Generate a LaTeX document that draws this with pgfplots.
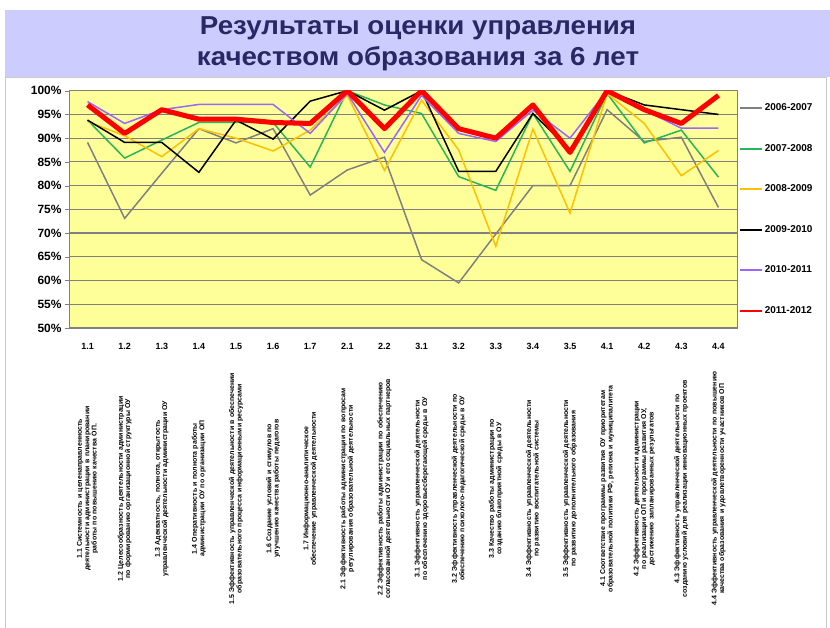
\documentclass[border=0pt]{standalone}
\usepackage{fontspec}
\setmainfont{Liberation Sans}
\newfontfamily\titlefont[FakeStretch=1.07]{Liberation Sans}
\usepackage{pgfplots}
\pgfplotsset{compat=1.18}
\definecolor{titlebg}{RGB}{204,204,255}
\definecolor{titlefg}{RGB}{40,40,100}
\definecolor{plotbg}{RGB}{255,255,153}
\definecolor{gridgray}{RGB}{128,128,128}
\definecolor{c06}{RGB}{128,128,128}
\definecolor{c07}{RGB}{40,180,90}
\definecolor{c08}{RGB}{255,192,0}
\definecolor{c09}{RGB}{0,0,0}
\definecolor{c10}{RGB}{153,102,255}
\definecolor{c11}{RGB}{255,0,0}
\begin{document}
\begin{tikzpicture}
\begin{axis}[
  width=668bp,height=237.3bp,scale only axis,
  xmin=-0.5,xmax=17.5,ymin=50,ymax=100,
  axis background/.style={fill=plotbg},
  axis line style={gridgray},
  ymajorgrids,grid style={gridgray,line width=1.2bp},
  ytick={50,55,...,100},
  yticklabel={\pgfmathprintnumber{\tick}\%},
  yticklabel style={font=\bfseries\fontsize{12}{14}\selectfont,/pgf/number format/assume math mode=true},
  major tick length=4bp,
  tick align=outside,tick pos=left,
  xtick={0,...,17},
  xtick style={draw=none},
  minor xtick={-0.5,0.5,...,17.5},
  minor tick length=5bp,
  minor x tick style={gridgray},
  y tick style={gridgray},
  x tick label style={font=\bfseries\fontsize{9}{10}\selectfont,yshift=-8bp},
  xticklabels={1.1,1.2,1.3,1.4,1.5,1.6,1.7,2.1,2.2,3.1,3.2,3.3,3.4,3.5,4.1,4.2,4.3,4.4},
  extra x ticks={0,...,17},
  extra x tick style={
    xtick style={draw=none},xmajorgrids=false,
    x tick label style={rotate=90,anchor=east,xshift=-26bp,align=center,
      text width=245bp,inner sep=0pt,font=\bfseries\fontsize{7}{7.5}\selectfont}},
  extra x tick labels={
    {1.1 Системность и целенаправленность деятельности администрации в планировании работы по повышению качества ОП.},
    {1.2 Целесообразность деятельности администрации по формированию организационной структуры ОУ},
    {1.3 Адекватность, полнота, открытость управленческой деятельности администрации ОУ},
    {1.4 Оперативность и полнота работы администрации ОУ по организации ОП},
    {1.5 Эффективность управленческой деятельности в обеспечении образовательного процесса информационными ресурсами},
    {1.6 Создание условий и стимулов по улучшению качества работы педагогов},
    {1.7 Информационно-аналитическое обеспечение управленческой деятельности},
    {2.1 Эффективность работы администрации по вопросам регулирования образовательной деятельности},
    {2.2 Эффективность работы администрации по обеспечению согласованной деятельности ОУ и его социальных партнеров},
    {3.1 Эффективность управленческой деятельности по обеспечению здоровьесберегающей среды в ОУ},
    {3.2 Эффективность управленческой деятельности по обеспечению психолого-педагогической среды в ОУ},
    {3.3 Качество работы администрации по созданию благоприятной среды в ОУ},
    {3.4 Эффективность управленческой деятельности по развитию воспитательной системы},
    {3.5 Эффективность управленческой деятельности по развитию дополнительного образования},
    {4.1 Соответствие программы развития ОУ приоритетам образовательной политики РФ, региона и муниципалитета},
    {4.2 Эффективность деятельности администрации по реализации ОП и программы развития ОУ, достижению запланированных результатов},
    {4.3 Эффективность управленческой деятельности по созданию условий для реализации инновационных проектов},
    {4.4 Эффективность управленческой деятельности по повышению качества образования и удовлетворенности участников ОП}
  },
  no marks,
  legend cell align=left,
  legend style={at={(0.998,0.962)},anchor=north west,draw=none,fill=none,
    row sep=28.1bp,font=\bfseries\fontsize{10}{12}\selectfont},
  legend image code/.code={\draw[#1,line width=2bp] (0bp,0bp) -- (22bp,0bp);},
]
\addplot[c06,line width=1.5bp] coordinates {(0,89.1) (1,73.1) (2,82.6) (3,92.0) (4,89.0) (5,92.0) (6,78.0) (7,83.3) (8,86.0) (9,64.4) (10,59.5) (11,69.8) (12,80.0) (13,80.0) (14,96.0) (15,89.3) (16,90.2) (17,75.4)};
\addlegendentry{2006-2007}
\addplot[c07,line width=1.5bp] coordinates {(0,93.8) (1,85.8) (2,89.6) (3,93.3) (4,93.3) (5,93.3) (6,83.9) (7,100) (8,97.0) (9,95.2) (10,81.9) (11,79.0) (12,95.2) (13,83.0) (14,99.4) (15,89.0) (16,91.7) (17,81.8)};
\addlegendentry{2007-2008}
\addplot[c08,line width=1.5bp] coordinates {(0,93.5) (1,90.5) (2,86.1) (3,92.0) (4,90.0) (5,87.3) (6,91.7) (7,99.0) (8,83.2) (9,98.0) (10,87.5) (11,67.2) (12,91.9) (13,74.2) (14,99.4) (15,93.1) (16,82.1) (17,87.4)};
\addlegendentry{2008-2009}
\addplot[c09,line width=1.5bp] coordinates {(0,93.8) (1,89.1) (2,89.1) (3,82.8) (4,93.8) (5,89.8) (6,97.8) (7,100) (8,95.9) (9,100) (10,83.0) (11,83.0) (12,95.2) (13,87.5) (14,100) (15,97.0) (16,96.0) (17,95.0)};
\addlegendentry{2009-2010}
\addplot[c10,line width=1.5bp] coordinates {(0,97.7) (1,93.1) (2,96.0) (3,97.1) (4,97.1) (5,97.1) (6,91.0) (7,99.4) (8,87.0) (9,99.0) (10,91.0) (11,89.3) (12,95.9) (13,90.0) (14,100) (15,95.9) (16,92.1) (17,92.1)};
\addlegendentry{2010-2011}
\addplot[c11,line width=5bp,line join=round] coordinates {(0,97.0) (1,91.0) (2,96.0) (3,94.0) (4,94.0) (5,93.3) (6,93.1) (7,100) (8,92.0) (9,100) (10,92.0) (11,90.0) (12,97.0) (13,87.0) (14,100) (15,96.0) (16,93.1) (17,99.0)};
\addlegendentry{2011-2012}
\coordinate (O) at (rel axis cs:0,0);
\end{axis}
\pgfresetboundingbox
\begin{scope}[shift={(O)},x=1bp,y=1bp]
\useasboundingbox (-69,-300) rectangle (761,328);
\fill[titlebg] (-64,251) rectangle (761,318);
\draw[gray!40] (-64,-301) rectangle (757,251);
\node[titlefg,font=\titlefont\bfseries\fontsize{26}{31}\selectfont,align=center] at (349,284)
  {Результаты оценки управления\\качеством образования за 6 лет};
\end{scope}
\end{tikzpicture}
\end{document}
